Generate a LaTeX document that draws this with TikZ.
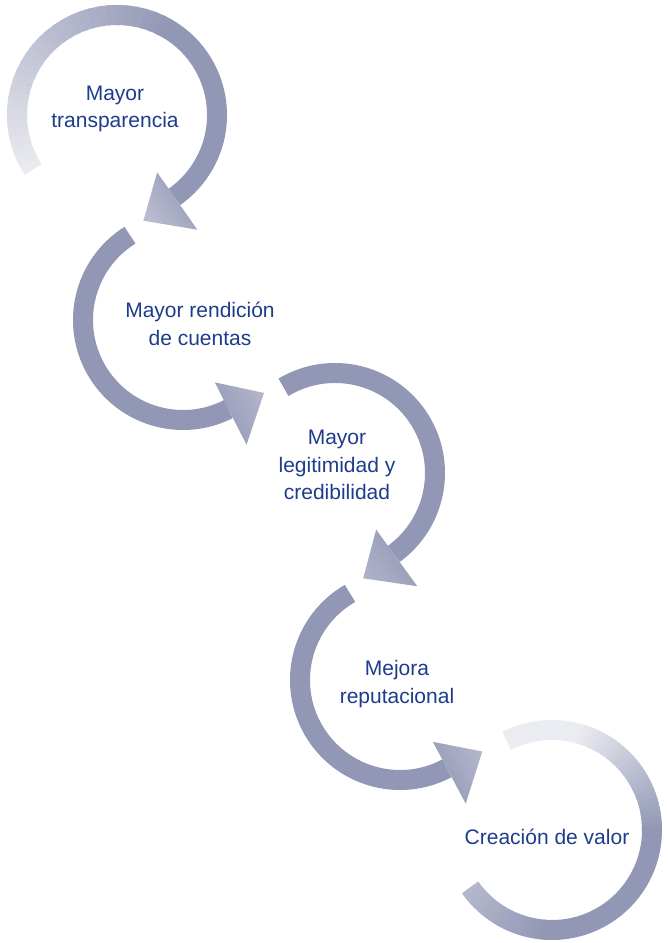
\documentclass[tikz,border=0pt]{standalone}
\usepackage{fontspec}
\setmainfont{Liberation Sans}
\usetikzlibrary{calc}
\definecolor{loopdark}{HTML}{9297B5}
\definecolor{looplight}{HTML}{EBECF1}
\definecolor{labelblue}{HTML}{1E3C8C}
\tikzset{
  band/.style={line width=20pt},
  looplabel/.style={text=labelblue, font=\fontsize{21}{27.5}\selectfont, align=center},
  headshade/.style={top color=#1, bottom color=loopdark},
}
% gradient arc: centre, from angle, to angle, dark % at start, dark % at end
\newcommand\gradarc[5]{%
  \foreach \k in {0,...,29}{
    \pgfmathsetmacro\arcfrom{#2+(#3-#2)*\k/30}
    \pgfmathsetmacro\arcto{#2+(#3-#2)*min(\k+1.4,30)/30}
    \pgfmathsetmacro\arcmix{#4+(#5-#4)*(\k+0.5)/30}
    \draw[band, loopdark!\arcmix!looplight] (#1) ++(\arcfrom:100) arc (\arcfrom:\arcto:100);
  }}
% arrow head: centre, base angle, sweep to tip, tip colour
\newcommand\arrowhead[4]{%
  \pgfmathsetmacro\tipang{#2+#3}
  \pgfmathsetmacro\shadeang{#2+(#3>0 ? 90 : -90)-90}
  \shade[headshade=#4, shading angle=\shadeang]
    ($(#1)+(#2:70)$) -- ($(#1)+(\tipang:109)$) -- ($(#1)+(#2:140)$) -- cycle;
}
\begin{document}
\begin{tikzpicture}[x=1pt, y=1pt]
\useasboundingbox (0,0) rectangle (668,943);
\coordinate (c1) at (117,828);
\coordinate (c2) at (183,623);
\coordinate (c3) at (335,470);
\coordinate (c4) at (400,263);
\coordinate (c5) at (552,113);

% loop 1
\gradarc{c1}{213}{60}{0}{100}
\draw[band, loopdark] (c1) ++(61:100) arc (61:-55:100);
\arrowhead{c1}{-55}{-21}{loopdark!55!looplight}
% loop 2
\draw[band, loopdark] (c2) ++(122:100) arc (122:297:100);
\arrowhead{c2}{-63}{21}{loopdark!65!looplight}
% loop 3
\draw[band, loopdark] (c3) ++(121:100) arc (121:-54:100);
\arrowhead{c3}{-54}{-21}{loopdark!70!looplight}
% loop 4
\draw[band, loopdark] (c4) ++(120:100) arc (120:298:100);
\arrowhead{c4}{-62}{21}{loopdark!65!looplight}
% loop 5
\draw[band, looplight] (c5) ++(117:100) arc (117:74:100);
\gradarc{c5}{75}{0}{0}{100}
\draw[band, loopdark] (c5) ++(1:100) arc (1:-95:100);
\gradarc{c5}{-94}{-145}{100}{60}

\node[looplabel] (transp) at (115,834) {Mayor\\transparencia};
\node[looplabel] (rendicion) at (200,619) {Mayor rendición\\de cuentas};
\node[looplabel] (legit) at (337,478) {Mayor\\legitimidad y\\credibilidad};
\node[looplabel] (reput) at (397,259) {Mejora\\reputacional};
\node[looplabel] (valor) at (547,106) {Creación de valor};
\end{tikzpicture}
\end{document}
